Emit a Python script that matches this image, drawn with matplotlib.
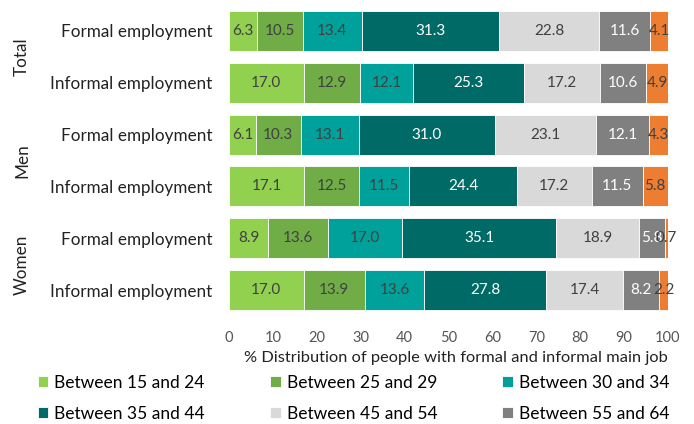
import matplotlib
matplotlib.use("Agg")
import matplotlib.pyplot as plt
import numpy as np

plt.rcParams['font.family'] = ['Lato', 'DejaVu Sans']

row_labels = ["Formal employment", "Informal employment"] * 3
groups = ["Total", "Men", "Women"]
series_names = ["Between 15 and 24", "Between 25 and 29", "Between 30 and 34",
                "Between 35 and 44", "Between 45 and 54", "Between 55 and 64",
                "65 and over"]
age_15_24 = [6.3, 17.0, 6.1, 17.1, 8.9, 17.0]
age_25_29 = [10.5, 12.9, 10.3, 12.5, 13.6, 13.9]
age_30_34 = [13.4, 12.1, 13.1, 11.5, 17.0, 13.6]
age_35_44 = [31.3, 25.3, 31.0, 24.4, 35.1, 27.8]
age_45_54 = [22.8, 17.2, 23.1, 17.2, 18.9, 17.4]
age_55_64 = [11.6, 10.6, 12.1, 11.5, 5.8, 8.2]
age_65_up = [4.1, 4.9, 4.3, 5.8, 0.7, 2.2]
series = [age_15_24, age_25_29, age_30_34, age_35_44, age_45_54, age_55_64, age_65_up]
colors = ["#92D050", "#70AD47", "#00A19A", "#006B66", "#D9D9D9", "#808080", "#ED7D31"]
text_colors = ["#404040", "#404040", "#404040", "white", "#404040", "white", "#404040"]

fig = plt.figure(figsize=(6.94, 4.24), dpi=100)
ax = fig.add_axes([229/694, 1 - 316/424, (668-229)/694, (316-5)/424])

y = np.arange(len(row_labels))
left = np.zeros(len(row_labels))
handles = []
for vals, c, tc, name in zip(series, colors, text_colors, series_names):
    bars = ax.barh(y, vals, left=left, height=0.77, color=c, edgecolor="white",
                   linewidth=0.6, label=name)
    handles.append(bars)
    for yi, (l, v) in enumerate(zip(left, vals)):
        ax.text(l + v / 2, yi, f"{v:.1f}", ha="center", va="center",
                color=tc, fontsize=11)
    left += np.array(vals)

ax.set_ylim(len(row_labels) - 0.5, -0.5)
ax.set_xlim(0, 100)
ax.set_yticks(y)
ax.set_yticklabels(row_labels, fontsize=12.3, color="#222222")
ax.set_xticks(np.arange(0, 101, 10))
ax.tick_params(axis="x", labelsize=10.5, labelcolor="#555555", length=0, pad=11)
ax.tick_params(axis="y", length=0, pad=12)
for s in ax.spines.values():
    s.set_visible(False)
ax.set_xlabel("% Distribution of people with formal and informal main job",
              fontsize=11.8, color="#222222", labelpad=4, loc="right")

for i, g in enumerate(groups):
    yc = 1 - (31 + 52 * (2 * i) + 26) / 424
    fig.text(22/694, yc, g, rotation=90, ha="center", va="center",
             fontsize=12.3, color="#222222")

order = [0, 3, 1, 4, 2, 5]
fig.legend([handles[i] for i in order], [series_names[i] for i in order],
           ncol=3, loc="upper left", bbox_to_anchor=(38/694, 1 - 375/424),
           frameon=False, fontsize=12.5, handlelength=0.6, handleheight=0.6,
           handletextpad=0.35, columnspacing=3.75, labelspacing=0.85,
           borderaxespad=0, borderpad=0)

fig.savefig("out.png", dpi=100)
